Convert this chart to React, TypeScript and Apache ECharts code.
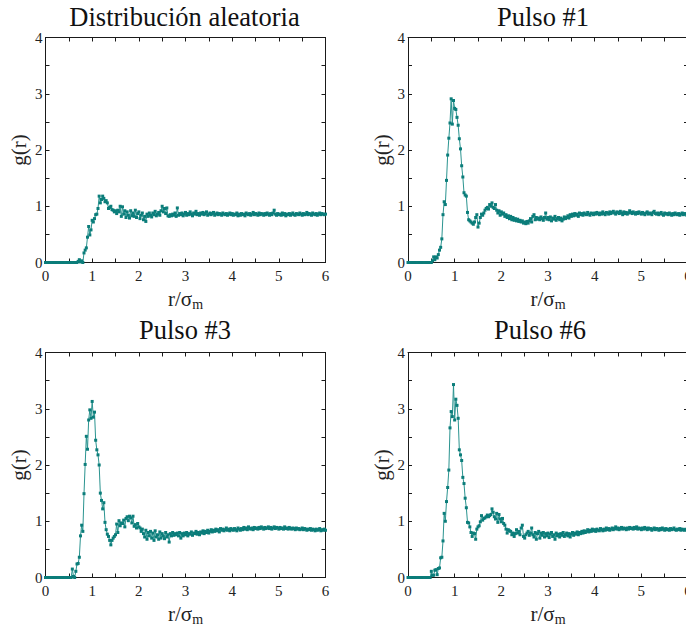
import React, { useEffect, useRef } from "react";
import * as echarts from "echarts";

const STEP = 0.025;
const TITLES = ["Distribución aleatoria", "Pulso #1", "Pulso #3", "Pulso #6"];
const X_TICKS = [0, 1, 2, 3, 4, 5, 6];
const Y_TICKS = [0, 1, 2, 3, 4];

const gRandom = [
  0, 0, 0, 0, 0, 0, 0, 0, 0, 0, 0, 0, 0, 0, 0, 0, 0, 0, 0, 0, 0, 0, 0, 0, 0, 0, 0, 0,
  0.02, 0.05, 0.01, 0.03, 0.0, 0.17, 0.22, 0.26, 0.45, 0.64, 0.49, 0.58,
  0.75, 0.72, 0.78, 0.85, 0.86, 0.96, 1.18, 1.06, 1.12, 1.18, 1.14, 1.08, 1.1, 1.06, 0.96, 0.98,
  1.0, 0.94, 0.93, 0.9, 0.92, 0.87, 0.93, 0.9, 1.0, 0.82, 0.99, 0.86, 0.92, 0.8, 0.9, 0.84,
  0.79, 0.92, 0.83, 0.88, 0.82, 0.93, 0.8, 0.87, 0.9, 0.78, 0.84, 0.88, 0.76, 0.82, 0.73, 0.86,
  0.82, 0.88, 0.84, 0.81, 0.88, 0.85, 0.91, 0.83, 0.86, 0.89, 0.84, 0.92, 1.0, 0.9, 0.96, 0.87,
  0.97, 0.83, 0.82, 0.85, 0.83, 0.86, 0.84, 0.88, 0.82, 0.97, 0.84, 0.87, 0.85, 0.88, 0.83, 0.86,
  0.89,
  0.84, 0.87, 0.85, 0.9, 0.86, 0.83, 0.88, 0.86, 0.91, 0.85, 0.87, 0.84, 0.88, 0.86, 0.89, 0.85, 0.87, 0.9, 0.84, 0.86,
  0.88, 0.85, 0.87, 0.89, 0.84, 0.86, 0.88, 0.85, 0.87, 0.86, 0.84, 0.88, 0.86, 0.85, 0.87, 0.84, 0.86, 0.88, 0.85, 0.87,
  0.84, 0.86, 0.85, 0.88, 0.83, 0.86, 0.84, 0.87, 0.85, 0.86, 0.83, 0.88, 0.86, 0.85, 0.87, 0.84, 0.86, 0.89, 0.85, 0.87,
  0.86, 0.84, 0.88, 0.85, 0.87, 0.86, 0.84, 0.87, 0.85, 0.88, 0.86, 0.84, 0.87, 0.85, 0.88, 0.93, 0.86, 0.84, 0.87, 0.85,
  0.86, 0.84, 0.88, 0.85, 0.87, 0.83, 0.86, 0.85, 0.87, 0.84, 0.86, 0.88, 0.85, 0.84, 0.87, 0.86, 0.85, 0.88, 0.86, 0.84,
  0.87, 0.85, 0.86, 0.89, 0.85, 0.87, 0.86, 0.84, 0.88, 0.86, 0.85, 0.87, 0.84, 0.86, 0.88, 0.85, 0.87, 0.86, 0.85, 0.86,
];

const gPulse1 = [
  0, 0, 0, 0, 0, 0, 0, 0, 0, 0, 0, 0, 0, 0, 0, 0, 0, 0, 0, 0, 0,
  0.03, 0.1, 0.05, 0.1, 0.08, 0.14, 0.22, 0.27, 0.42, 0.85, 1.08, 1.03, 1.46, 1.91, 2.21, 2.48,
  2.91, 2.46, 2.88, 2.74, 2.72, 2.58, 2.44, 2.2, 2.02, 1.72, 1.52, 1.24, 1.2, 1.18, 0.89,
  0.76, 0.74, 0.72, 0.7, 0.68, 0.72, 0.8, 0.85, 0.63, 0.7, 0.8, 0.86, 0.84, 0.88, 0.93, 0.96,
  0.98, 0.95, 1.03, 1.0, 1.06, 0.98, 0.96, 1.03, 0.93, 0.88, 0.92, 0.84, 0.9, 0.86, 0.88, 0.82,
  0.85, 0.8, 0.83, 0.78, 0.82, 0.76, 0.8, 0.75, 0.78, 0.74, 0.77, 0.73, 0.75, 0.72, 0.74, 0.7,
  0.72, 0.69, 0.73, 0.7, 0.74, 0.78, 0.72, 0.82, 0.85, 0.76, 0.8, 0.77, 0.79, 0.76, 0.81, 0.78,
  0.75, 0.8, 0.88, 0.77, 0.8,
  0.76, 0.81, 0.74, 0.79, 0.77, 0.82, 0.75, 0.78, 0.8, 0.76, 0.79, 0.74, 0.77, 0.81, 0.78, 0.8, 0.83, 0.79, 0.85, 0.82,
  0.86, 0.83, 0.87, 0.84, 0.86, 0.82, 0.88, 0.85, 0.87, 0.84, 0.88, 0.86, 0.85, 0.89, 0.86, 0.84, 0.88, 0.87, 0.85, 0.88,
  0.86, 0.89, 0.87, 0.85, 0.88, 0.86, 0.9, 0.87, 0.85, 0.89, 0.88, 0.86, 0.9, 0.87, 0.89, 0.91, 0.88, 0.86, 0.9, 0.89,
  0.87, 0.91, 0.88, 0.85, 0.9, 0.87, 0.89, 0.86, 0.88, 0.92, 0.89, 0.87, 0.9, 0.88, 0.86, 0.89, 0.87, 0.9, 0.88, 0.86,
  0.89, 0.87, 0.85, 0.88, 0.9, 0.86, 0.88, 0.87, 0.85, 0.89, 0.91, 0.87, 0.86, 0.88, 0.85, 0.87, 0.89, 0.86, 0.84, 0.88,
  0.86, 0.87, 0.85, 0.88, 0.86, 0.84, 0.87, 0.85, 0.88, 0.86, 0.85, 0.87, 0.84, 0.86, 0.88, 0.85, 0.87, 0.86, 0.84, 0.86,
];

const gPulse3 = [
  0, 0, 0, 0, 0, 0, 0, 0, 0, 0, 0, 0, 0, 0, 0, 0, 0, 0, 0, 0, 0, 0, 0,
  0.15, 0.02, 0.0, 0.11, 0.24, 0.25, 0.36, 0.74, 0.93, 0.82, 1.49, 2.01, 2.51, 2.28,
  2.8, 2.98, 2.83, 3.13, 2.85, 2.94, 2.44, 2.27, 2.18, 2.0, 1.5, 1.37, 1.22, 1.33, 0.98,
  0.85, 0.77, 0.73, 0.66, 0.58, 0.66, 0.7, 0.73, 0.76, 0.95, 0.8, 1.01, 0.92, 0.97, 0.96, 1.02,
  0.9, 1.05, 1.08, 1.01, 1.09, 1.06, 0.97, 1.09, 0.91, 0.94, 0.88, 0.96, 0.9, 0.88, 0.82, 0.86,
  0.78, 0.72, 0.84, 0.68, 0.8, 0.74, 0.82, 0.7, 0.79, 0.66, 0.83, 0.72, 0.76, 0.68, 0.81, 0.7,
  0.78, 0.74, 0.69, 0.8, 0.72, 0.76, 0.63, 0.78, 0.74, 0.8, 0.75, 0.78, 0.76, 0.79, 0.74, 0.8,
  0.7, 0.78, 0.74, 0.79, 0.76,
  0.8, 0.74, 0.78, 0.77, 0.81, 0.75, 0.79, 0.78, 0.82, 0.77, 0.8, 0.76, 0.81, 0.79, 0.83, 0.78, 0.82, 0.8, 0.84, 0.79,
  0.82, 0.85, 0.81, 0.84, 0.82, 0.86, 0.83, 0.85, 0.81, 0.87, 0.84, 0.86, 0.83, 0.85, 0.88, 0.84, 0.86, 0.83, 0.87, 0.85,
  0.84, 0.87, 0.85, 0.83, 0.88, 0.86, 0.84, 0.87, 0.85, 0.89, 0.86, 0.88, 0.85, 0.9, 0.87, 0.86, 0.88, 0.85, 0.89, 0.87,
  0.88, 0.86, 0.89, 0.87, 0.9, 0.88, 0.86, 0.89, 0.87, 0.88, 0.9, 0.87, 0.89, 0.86, 0.88, 0.9, 0.87, 0.89, 0.88, 0.86,
  0.89, 0.87, 0.88, 0.86, 0.9, 0.87, 0.88, 0.86, 0.89, 0.87, 0.86, 0.88, 0.87, 0.85, 0.88, 0.86, 0.87, 0.85, 0.86, 0.88,
  0.85, 0.87, 0.86, 0.84, 0.86, 0.85, 0.87, 0.84, 0.86, 0.85, 0.83, 0.86, 0.84, 0.85, 0.87, 0.83, 0.85, 0.84, 0.86, 0.84,
];

const gPulse6 = [
  0, 0, 0, 0, 0, 0, 0, 0, 0, 0, 0, 0, 0, 0, 0, 0, 0, 0, 0,
  0.0, 0.11, 0.04, 0.04, 0.13, 0.14, 0.05, 0.16, 0.17, 0.35, 0.36, 0.65, 1.14, 1.0, 1.35, 1.6,
  1.91, 2.66, 2.95, 2.86, 3.43, 2.8, 3.17, 3.06, 2.83, 2.27, 2.18, 2.08, 1.78, 1.67, 1.41, 1.24,
  0.98, 0.97, 0.9, 0.8, 0.73, 0.79, 0.78, 0.68, 0.86, 0.9, 0.92, 0.99, 1.1, 1.02, 1.05, 1.06,
  1.08, 1.11, 1.08, 1.1, 1.12, 1.22, 1.16, 1.08, 1.04, 1.14, 0.98, 1.12, 1.04, 0.99, 1.05, 0.96,
  0.93, 0.86, 0.79, 0.85, 0.83, 0.82, 0.76, 0.79, 0.73, 0.78, 0.85, 0.79, 0.82, 0.76, 0.88, 0.93,
  0.73, 0.7, 0.76, 0.79, 0.82, 0.75, 0.79, 0.88, 0.76, 0.72, 0.8, 0.68, 0.78, 0.82, 0.7, 0.79,
  0.75, 0.8, 0.72, 0.78, 0.74, 0.79,
  0.71, 0.77, 0.8, 0.73, 0.76, 0.68, 0.79, 0.74, 0.77, 0.72, 0.78, 0.75, 0.8, 0.73, 0.76, 0.79, 0.74, 0.78, 0.72, 0.77,
  0.8, 0.75, 0.79, 0.77, 0.81, 0.76, 0.8, 0.78, 0.82, 0.79, 0.83, 0.8, 0.82, 0.85, 0.81, 0.84, 0.82, 0.86, 0.83, 0.85,
  0.82, 0.86, 0.84, 0.83, 0.87, 0.85, 0.83, 0.86, 0.84, 0.88, 0.85, 0.87, 0.84, 0.86, 0.88, 0.85, 0.87, 0.9, 0.86, 0.88,
  0.85, 0.87, 0.89, 0.86, 0.88, 0.87, 0.85, 0.88, 0.86, 0.89, 0.87, 0.88, 0.86, 0.89, 0.87, 0.9, 0.86, 0.88, 0.87, 0.85,
  0.88, 0.86, 0.89, 0.87, 0.85, 0.88, 0.86, 0.87, 0.84, 0.86, 0.88, 0.85, 0.87, 0.86, 0.84, 0.87, 0.85, 0.88, 0.86, 0.84,
  0.87, 0.85, 0.86, 0.84, 0.87, 0.85, 0.86, 0.88, 0.85, 0.84, 0.86, 0.85, 0.87, 0.84, 0.86, 0.85, 0.84, 0.86, 0.85, 0.86,
];

const SERIES = [gRandom, gPulse1, gPulse3, gPulse6];

const SERIF = "Liberation Serif, Times New Roman, serif";
const AXIS_COLOR = "#1a1a1a";
const MARK_COLOR = "#0b7d7a";
const LINE_COLOR = "#2b9490";

const GRIDS = [
  { left: 45.5, top: 37.5, width: 280, height: 225 },
  { left: 408, top: 37.5, width: 280, height: 225 },
  { left: 45.5, top: 352.5, width: 280, height: 225 },
  { left: 408, top: 352.5, width: 280, height: 225 },
];

const TITLE_POS = [
  { x: 184.5, y: 17 },
  { x: 543, y: 17 },
  { x: 185, y: 330 },
  { x: 540, y: 330 },
];

export default function App() {
  const ref = useRef<HTMLDivElement>(null);

  useEffect(() => {
    if (!ref.current) return;
    const chart = echarts.init(ref.current, null, { renderer: "svg" });

    const tickCommon = {
      axisTick: { show: true, inside: true, length: 4, lineStyle: { color: AXIS_COLOR, width: 1 } },
      minorTick: { show: true, splitNumber: 2, length: 4, lineStyle: { color: AXIS_COLOR, width: 1 } },
      axisLine: { show: true, onZero: false, lineStyle: { color: AXIS_COLOR, width: 1 } },
      splitLine: { show: false },
      minorSplitLine: { show: false },
    };

    const xAxis: any[] = [];
    const yAxis: any[] = [];
    const series: any[] = [];

    GRIDS.forEach((_, i) => {
      xAxis.push({
        type: "value",
        gridIndex: i,
        position: "bottom",
        min: X_TICKS[0],
        max: X_TICKS[X_TICKS.length - 1],
        interval: 1,
        ...tickCommon,
        axisLabel: { show: true, margin: 6, fontFamily: SERIF, fontSize: 15, color: "#222" },
        name: "r/σ{sub|m}",
        nameLocation: "middle",
        nameGap: 23,
        nameTextStyle: {
          fontFamily: SERIF,
          fontSize: 21,
          color: "#222",
          rich: {
            sub: { fontFamily: SERIF, fontSize: 14, color: "#222", padding: [12, 0, 0, 0] },
          },
        },
      });
      xAxis.push({
        type: "value",
        gridIndex: i,
        position: "top",
        min: X_TICKS[0],
        max: X_TICKS[X_TICKS.length - 1],
        interval: 1,
        ...tickCommon,
        axisLabel: { show: false },
      });
      yAxis.push({
        type: "value",
        gridIndex: i,
        position: "left",
        min: Y_TICKS[0],
        max: Y_TICKS[Y_TICKS.length - 1],
        interval: 1,
        ...tickCommon,
        axisLabel: { show: true, margin: 3, fontFamily: SERIF, fontSize: 15, color: "#222" },
        name: "g(r)",
        nameLocation: "middle",
        nameGap: 16,
        nameTextStyle: { fontFamily: SERIF, fontSize: 21, color: "#222" },
      });
      yAxis.push({
        type: "value",
        gridIndex: i,
        position: "right",
        min: Y_TICKS[0],
        max: Y_TICKS[Y_TICKS.length - 1],
        interval: 1,
        ...tickCommon,
        axisLabel: { show: false },
      });
      series.push({
        type: "line",
        xAxisIndex: 2 * i,
        yAxisIndex: 2 * i,
        data: SERIES[i].map((v, k) => [k * STEP, v]),
        symbol: "rect",
        symbolSize: 3,
        showSymbol: true,
        showAllSymbol: true,
        lineStyle: { color: LINE_COLOR, width: 1 },
        itemStyle: { color: MARK_COLOR },
        emphasis: { disabled: true },
      });
    });

    chart.setOption({
      animation: false,
      backgroundColor: "#ffffff",
      grid: GRIDS.map((g) => ({ ...g, containLabel: false, outerBoundsMode: "none" })),
      xAxis,
      yAxis,
      series,
      graphic: TITLES.map((t, i) => ({
        type: "text",
        x: TITLE_POS[i].x,
        y: TITLE_POS[i].y,
        style: {
          text: t,
          fontFamily: SERIF,
          fontSize: 26.5,
          fill: "#111",
          textAlign: "center",
          textVerticalAlign: "middle",
        },
      })),
    });

    return () => chart.dispose();
  }, []);

  return (
    <div
      ref={ref}
      style={{ position: "absolute", left: 0, top: 0, width: 686, height: 628, background: "#fff" }}
    />
  );
}
